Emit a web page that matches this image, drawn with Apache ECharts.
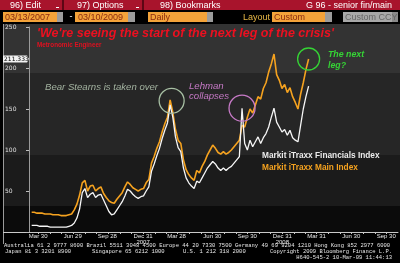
<!DOCTYPE html>
<html><head><meta charset="utf-8">
<script src="https://cdn.jsdelivr.net/npm/echarts@6/dist/echarts.min.js"></script>
<style>html,body{margin:0;padding:0;background:#000;}#c{width:400px;height:263px;}</style>
</head><body><div id="c"></div>
<script>
// ---- data (weekly readings, bp) ----
const dates = [
'2007-03-13','2007-03-20','2007-03-27','2007-04-03','2007-04-10','2007-04-17','2007-04-24','2007-05-01','2007-05-08','2007-05-15',
'2007-05-22','2007-05-29','2007-06-05','2007-06-12','2007-06-19','2007-06-26','2007-07-03','2007-07-10','2007-07-17','2007-07-24',
'2007-07-31','2007-08-07','2007-08-14','2007-08-21','2007-08-28','2007-09-04','2007-09-11','2007-09-18','2007-09-25','2007-10-02',
'2007-10-09','2007-10-16','2007-10-23','2007-10-30','2007-11-06','2007-11-13','2007-11-20','2007-11-27','2007-12-04','2007-12-11',
'2007-12-18','2007-12-25','2008-01-01','2008-01-08','2008-01-15','2008-01-22','2008-01-29','2008-02-05','2008-02-12','2008-02-19',
'2008-02-26','2008-03-04','2008-03-11','2008-03-18','2008-03-25','2008-04-01','2008-04-08','2008-04-15','2008-04-22','2008-04-29',
'2008-05-06','2008-05-13','2008-05-20','2008-05-27','2008-06-03','2008-06-10','2008-06-17','2008-06-24','2008-07-01','2008-07-08',
'2008-07-15','2008-07-22','2008-07-29','2008-08-05','2008-08-12','2008-08-19','2008-08-26','2008-09-02','2008-09-09','2008-09-16',
'2008-09-23','2008-09-30','2008-10-07','2008-10-14','2008-10-21','2008-10-28','2008-11-04','2008-11-11','2008-11-18','2008-11-25',
'2008-12-02','2008-12-09','2008-12-16','2008-12-23','2008-12-30','2009-01-06','2009-01-13','2009-01-20','2009-01-27','2009-02-03',
'2009-02-10','2009-02-17','2009-02-24','2009-03-03','2009-03-10'];
const mainIndex = [
24,24,23,23,23,22,22,22,21,21,
21,20,20,20,21,22,27,34,45,60,
63,50,56,57,50,53,55,47,42,38,
36,35,40,44,48,55,61,58,54,52,
50,52,53,60,64,84,92,102,110,122,
132,140,161,146,125,112,108,88,76,70,
66,63,75,72,80,86,94,100,106,102,
97,95,98,95,97,100,104,108,112,130,
128,140,150,145,155,165,162,175,182,195,
205,217,192,185,175,180,170,176,165,158,
150,168,182,198,211];
const finIndex = [
8,8,8,7,7,7,7,6,6,6,
6,6,6,6,7,8,11,17,28,48,
53,42,46,48,42,45,46,39,32,25,
21,22,27,32,37,44,52,50,46,43,
41,43,44,50,55,74,83,93,102,114,
124,133,155,140,116,103,98,78,66,60,
56,53,62,60,66,72,78,82,86,83,
78,75,78,75,78,80,84,88,92,151,
108,100,112,104,110,116,108,115,120,128,
140,151,134,128,122,125,118,124,115,112,
110,130,150,165,178];
const tickDates  = ['2007-03-30','2007-06-29','2007-09-28','2007-12-31','2008-03-28','2008-06-30','2008-09-30','2008-12-31','2009-03-31','2009-06-30','2009-09-30'];
const tickLabels = ['Mar 30','Jun 29','Sep 28','Dec 31','Mar 28','Jun 30','Sep 30','Dec 31','Mar 31','Jun 30','Sep 30'];
const tickYears  = ['','','','2007','','','','2008','','',''];
const lastValueLabel = '211.333';
const seriesNames = ['Markit iTraxx Financials Index','Markit iTraxx Main Index'];
const events = [
  {date:'2008-03-11', value:160, text:['Bear Stearns is taken over']},
  {date:'2008-09-16', value:151, text:['Lehman','collapses']},
  {date:'2009-03-10', value:211, text:['The next','leg?']}
];

// ---- helpers ----
const T = s => { const p = s.split('-').map(Number); return new Date(p[0], p[1]-1, p[2]).getTime(); };
const tickTs = tickDates.map(T);
const xMin = T('2007-03-06'), xMax = T('2009-10-31');
const monthTicks = [];
for (let y = 2007; y <= 2009; y++) for (let m = 0; m < 12; m++) {
  const t = new Date(y, m + 1, 0).getTime();
  if (t > xMin && t < xMax) monthTicks.push(t);
}
const ORANGE = '#f5a21f';
const R = (x,y,w,h,fill,z) => ({type:'rect', shape:{x,y,width:w,height:h}, style:{fill}, z:(z===undefined?-50:z), silent:true});
const TX = (x,y,text,fill,font,align,z) => ({type:'text', x, y, style:{text, fill, font, align:align||'left', verticalAlign:'middle'}, z:(z===undefined?50:z), silent:true});
const SANS = '"Liberation Sans", Arial, sans-serif';
const MONO = '"Liberation Mono", "DejaVu Sans Mono", monospace';

const chart = echarts.init(document.getElementById('c'), null, {renderer:'canvas', width:400, height:263});

const staticGraphics = [
  // header row 1
  R(0,0,400,10,'#a8142c'),
  R(62,0,2,10,'#5c0614'), R(142,0,2,10,'#5c0614'),
  R(56,7,3,1,'#ffffff',60), R(136,7,3,1,'#ffffff',60),
  TX(10,5.5,'96) Edit','#ffffff','9px '+SANS),
  TX(77,5.5,'97) Options','#ffffff','9px '+SANS),
  TX(160,5.5,'98) Bookmarks','#ffffff','9px '+SANS),
  TX(392,5.5,'G 96 - senior fin/main','#ffffff','9px '+SANS,'right'),
  // header row 2
  R(3,12,54,10,'#f3a33a'), R(57,12,6,10,'#9c9c9c'),
  TX(71,17,'-','#ffffff','9px '+SANS,'center'),
  R(75,12,53,10,'#f3a33a'), R(128,12,7,10,'#9c9c9c'),
  R(148,12,59,10,'#f3a33a'), R(207,12,6,10,'#9c9c9c'),
  R(272,12,53,10,'#f3a33a'), R(325,12,7,10,'#9c9c9c'),
  R(343,12,49,10,'#a8a8a8'), R(392,12,6,10,'#8a8a8a'),
  TX(5,17.5,'03/13/2007','#8a2a10','9px '+SANS),
  TX(78,17.5,'03/10/2009','#8a2a10','9px '+SANS),
  TX(150,17.5,'Daily','#8a2a10','9px '+SANS),
  TX(243,17.5,'Layout','#e8b848','9px '+SANS),
  TX(274,17.5,'Custom','#8a2a10','9px '+SANS),
  TX(345,17.5,'Custom CCY','#666666','9px '+SANS),
  // chart backdrop bands
  R(3,24,397,49,'#333333',-100),
  R(3,73,397,82,'#262626',-100),
  R(3,155,397,51,'#1b1b1b',-100),
  R(3,206,397,26,'#0b0b0b',-100),
  R(3,24,1,220,'#9a9a9a',-40),
  R(3,232,26,1,'#c8c8c8',-40),
  // title
  TX(37,34,"'We're seeing the start of the next leg of the crisis'",'#ec1020','italic bold 12.5px '+SANS),
  TX(37,45.5,'Metronomic Engineer','#e01020','bold 6.3px '+SANS),
  // annotation texts
  TX(45,87.5,events[0].text[0],'#a3b3a0','italic 9.6px '+SANS),
  TX(189,86,events[1].text[0],'#c77ac7','italic 9.6px '+SANS),
  TX(189,96.5,events[1].text[1],'#c77ac7','italic 9.6px '+SANS),
  TX(328,55,events[2].text[0],'#35d435','italic bold 8.8px '+SANS),
  TX(328,66,events[2].text[1],'#35d435','italic bold 8.8px '+SANS),
  // legend texts
  TX(262,156,seriesNames[0],'#ececec','bold 8.3px '+SANS),
  TX(262,168,seriesNames[1],ORANGE,'bold 8.3px '+SANS),
  // footer
  TX(4,245.5,'Australia 61 2 9777 8600 Brazil 5511 3048 4500 Europe 44 20 7330 7500 Germany 49 69 9204 1210 Hong Kong 852 2977 6000','#e6e6e6','5.5px '+MONO),
  TX(5,251.5,'Japan 81 3 3201 8900','#e6e6e6','5.5px '+MONO),
  TX(92,251.5,'Singapore 65 6212 1000','#e6e6e6','5.5px '+MONO),
  TX(183,251.5,'U.S. 1 212 318 2000','#e6e6e6','5.5px '+MONO),
  TX(392,251.5,'Copyright 2009 Bloomberg Finance L.P.','#e6e6e6','5.5px '+MONO,'right'),
  TX(392,257.5,'H640-545-2 10-Mar-09 11:44:13','#e6e6e6','5.5px '+MONO,'right')
];

const option = {
  animation: false,
  backgroundColor: '#000000',
  grid: {left: 29, right: 2, top: 27, bottom: 31, outerBoundsMode: 'none', containLabel: false},
  xAxis: {
    type: 'value', min: xMin, max: xMax,
    axisLine: {show: true, lineStyle: {color: '#c8c8c8', width: 1}},
    axisTick: {show: true, length: 2, lineStyle: {color: '#c8c8c8'}, customValues: monthTicks},
    axisLabel: {
      customValues: tickTs, margin: 1.5, color: '#e8e8e8',
      fontFamily: SANS, fontSize: 6, lineHeight: 6,
      hideOverlap: false,
      formatter: function (v) {
        const i = tickTs.indexOf(v);
        if (i < 0) return '';
        return tickYears[i] ? tickLabels[i] + '\n' + tickYears[i] : tickLabels[i];
      }
    },
    splitLine: {show: false}
  },
  yAxis: {
    type: 'value', min: 0, max: 250, interval: 50,
    axisLine: {show: true, lineStyle: {color: '#9a9a9a'}},
    axisTick: {show: true, length: 3, lineStyle: {color: '#bdbdbd'}},
    axisLabel: {color: '#e0e0e0', fontSize: 6, fontFamily: '"DejaVu Sans", sans-serif', align: 'left', margin: 24,
      formatter: v => (v === 0 ? '' : String(v))},
    splitLine: {show: false}
  },
  series: [
    {name: seriesNames[1], type: 'line', showSymbol: false, z: 3,
     data: dates.map((d, i) => [T(d), mainIndex[i]]),
     lineStyle: {color: ORANGE, width: 1.6}, itemStyle: {color: ORANGE}},
    {name: seriesNames[0], type: 'line', showSymbol: false, z: 4,
     data: dates.map((d, i) => [T(d), finIndex[i]]),
     lineStyle: {color: '#f6f6f6', width: 1.3}, itemStyle: {color: '#f6f6f6'}}
  ],
  graphic: staticGraphics
};
chart.setOption(option);

// data-driven overlays: circles at events and the last-value tag
const circleStyle = [['#a8c0a4', 12.5], ['#c77ac7', 13], ['#35d435', 11]];
const dyn = events.map((e, i) => {
  const p = chart.convertToPixel({gridIndex: 0}, [T(e.date), e.value]);
  return {type: 'circle', shape: {cx: p[0] + (i===0?1.5:0), cy: p[1], r: circleStyle[i][1]},
          style: {fill: 'none', stroke: circleStyle[i][0], lineWidth: 1.3}, z: 60, silent: true};
});
const lastP = chart.convertToPixel({gridIndex: 0}, [T(dates[dates.length-1]), mainIndex[mainIndex.length-1]]);
dyn.push(R(3, lastP[1] - 3.5, 24, 7, '#f2f2f2', 70));
dyn.push({type:'polygon', shape:{points:[[27,lastP[1]-3.5],[29,lastP[1]],[27,lastP[1]+3.5]]}, style:{fill:'#f2f2f2'}, z:70, silent:true});
dyn.push(TX(4, lastP[1], lastValueLabel, '#000000', '6px "DejaVu Sans", sans-serif', 'left', 71));
chart.setOption({graphic: staticGraphics.concat(dyn)});
</script>
</body></html>
